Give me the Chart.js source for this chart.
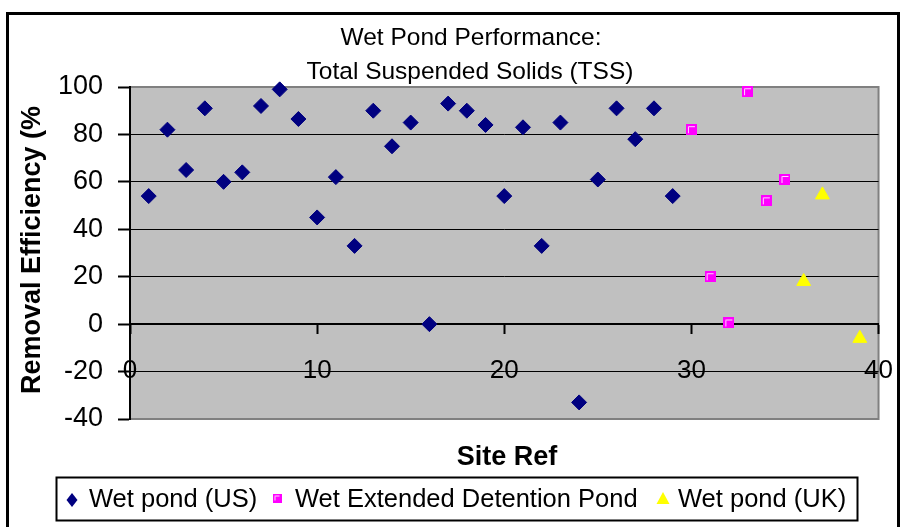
<!DOCTYPE html>
<html>
<head>
<meta charset="utf-8">
<title>Wet Pond Performance: TSS</title>
<script src="https://cdn.jsdelivr.net/npm/chart.js@4.4.1/dist/chart.umd.min.js"></script>
<style>
    html, body { margin: 0; padding: 0; background: #fff; }
    #wrap { width: 915px; height: 527px; }
</style>
</head>
<body>
<div id="wrap"><canvas id="tss-chart" width="915" height="527"></canvas></div>
<script>
// ─── Data ──────────────────────────────────────────────────────

const titleLines = ['Wet Pond Performance:', 'Total Suspended Solids (TSS)'];
const xAxisTitle = 'Site Ref';
const yAxisTitle = 'Removal Efficiency (%';

const seriesNames = ['Wet pond (US)', 'Wet Extended Detention Pond', 'Wet pond (UK)'];

const usSites  = [1, 2, 3, 4, 5, 6, 7, 8, 9, 10, 11, 12, 13, 14, 15, 16, 17, 18, 19, 20,
                  21, 22, 23, 24, 25, 26, 27, 28, 29];
const usValues = [54, 82, 65, 91, 60, 64, 92, 99, 86.5, 45, 62, 33, 90, 75, 85, 0, 93, 90, 84, 54,
                  83, 33, 85, -33, 61, 91, 78, 91, 54];

const edSites  = [30, 31, 32, 33, 34, 35];
const edValues = [82, 20, 0.5, 98, 52, 61];

const ukSites  = [36, 37, 39];
const ukValues = [18, 54.5, -6];

const xTicks = [0, 10, 20, 30, 40];
const yTicks = [-40, -20, 0, 20, 40, 60, 80, 100];

// ─── Look ──────────────────────────────────────────────────────

const FONT = '"Liberation Sans", Arial, sans-serif';
const NAVY = '#000080';
const MAGENTA = '#ff00ff';
const YELLOW = '#ffff00';

// Excel's square marker: magenta with a pale inner corner
function squareMarker(size) {
    const c = document.createElement('canvas');
    c.width = size;
    c.height = size;
    const g = c.getContext('2d');
    g.fillStyle = MAGENTA;
    g.fillRect(0, 0, size, size);
    g.strokeStyle = '#ffd6ff';
    g.lineWidth = 1;
    g.beginPath();
    g.moveTo(2.5, size - 2);
    g.lineTo(2.5, 2.5);
    g.lineTo(size - 2, 2.5);
    g.stroke();
    return c;
}

const plotSquare = squareMarker(11);
const legendSquare = squareMarker(9);

const toPoints = (xs, ys) => xs.map((x, i) => ({ x, y: ys[i] }));

// ─── Extra drawing: plot fill, frame, titles, legend ───────────

const excelLook = {
    id: 'excelLook',
    beforeDraw(chart) {
        const { ctx, chartArea: a } = chart;
        ctx.save();
        ctx.fillStyle = '#fff';
        ctx.fillRect(0, 0, chart.width, chart.height);
        ctx.fillStyle = '#c0c0c0';
        ctx.fillRect(a.left, a.top, a.right - a.left, a.bottom - a.top);

        ctx.strokeStyle = '#808080';
        ctx.lineWidth = 2;
        ctx.beginPath();
        ctx.moveTo(a.left, a.top);
        ctx.lineTo(a.right, a.top);
        ctx.lineTo(a.right, a.bottom);
        ctx.lineTo(a.left, a.bottom);
        ctx.stroke();

        // outer chart frame (bottom edge runs off the picture)
        ctx.strokeStyle = '#000';
        ctx.lineWidth = 3;
        ctx.strokeRect(7.5, 13.5, 891, 530);
        ctx.restore();
    },
    afterDraw(chart) {
        const { ctx } = chart;
        ctx.save();
        ctx.fillStyle = '#000';
        ctx.textAlign = 'center';
        ctx.textBaseline = 'middle';

        ctx.font = '24.5px ' + FONT;
        ctx.fillText(titleLines[0], 471, 38);
        ctx.fillText(titleLines[1], 470, 72);

        ctx.font = 'bold 27px ' + FONT;
        ctx.fillText(xAxisTitle, 507, 458);

        ctx.save();
        ctx.translate(33, 250);
        ctx.rotate(-Math.PI / 2);
        ctx.fillText(yAxisTitle, 0, 0);
        ctx.restore();

        // legend box
        ctx.strokeStyle = '#000';
        ctx.lineWidth = 2;
        ctx.strokeRect(56.5, 477.5, 801, 43);

        const ly = 500;
        const markerX = [72, 277, 663];
        const textX = [89, 295, 678];
        ctx.fillStyle = NAVY;
        ctx.beginPath();
        ctx.moveTo(72, ly - 7);
        ctx.lineTo(77.5, ly);
        ctx.lineTo(72, ly + 7);
        ctx.lineTo(66.5, ly);
        ctx.closePath();
        ctx.fill();

        ctx.drawImage(legendSquare, markerX[1] - 4.5, ly - 6.5);

        ctx.fillStyle = YELLOW;
        ctx.beginPath();
        ctx.moveTo(markerX[2], ly - 8);
        ctx.lineTo(markerX[2] + 6.5, ly + 4);
        ctx.lineTo(markerX[2] - 6.5, ly + 4);
        ctx.closePath();
        ctx.fill();

        ctx.fillStyle = '#000';
        ctx.textAlign = 'left';
        ctx.font = '25.5px ' + FONT;
        seriesNames.forEach((name, i) => ctx.fillText(name, textX[i], ly));
        ctx.restore();
    }
};

// ─── Chart ─────────────────────────────────────────────────────

Chart.defaults.font.family = FONT;
Chart.defaults.color = '#000';

const canvas = document.getElementById('tss-chart');

new Chart(canvas, {
    type: 'scatter',
    data: {
        datasets: [
            {
                label: seriesNames[0],
                data: toPoints(usSites, usValues),
                pointStyle: 'rectRot',
                pointRadius: 7.5,
                backgroundColor: NAVY,
                borderColor: NAVY,
                borderWidth: 1
            },
            {
                label: seriesNames[1],
                data: toPoints(edSites, edValues),
                pointStyle: plotSquare,
                pointRadius: 6
            },
            {
                label: seriesNames[2],
                data: toPoints(ukSites, ukValues),
                pointStyle: 'triangle',
                pointRadius: 8,
                backgroundColor: YELLOW,
                borderColor: YELLOW,
                borderWidth: 1
            }
        ]
    },
    options: {
        responsive: false,
        animation: false,
        events: [],
        clip: false,
        layout: { padding: { left: 0, top: 87, right: 33, bottom: 108 } },
        plugins: {
            legend: { display: false },
            title: { display: false },
            tooltip: { enabled: false }
        },
        scales: {
            x: {
                type: 'linear',
                position: { y: 0 },
                min: xTicks[0],
                max: xTicks[xTicks.length - 1],
                afterBuildTicks(scale) {
                    scale.ticks = xTicks.map(v => ({ value: v }));
                },
                grid: {
                    drawOnChartArea: false,
                    drawTicks: true,
                    tickLength: 9,
                    tickColor: '#000',
                    tickWidth: 2
                },
                border: { color: '#000', width: 2 },
                ticks: {
                    font: { size: 26 },
                    color: '#000',
                    padding: 22,
                    maxRotation: 0
                }
            },
            y: {
                type: 'linear',
                position: 'left',
                min: yTicks[0],
                max: yTicks[yTicks.length - 1],
                afterBuildTicks(scale) {
                    scale.ticks = yTicks.map(v => ({ value: v }));
                },
                afterFit(scale) {
                    scale.width = 130;
                },
                grid: {
                    color: ctx => (ctx.tick && (ctx.tick.value === 100 || ctx.tick.value === -40))
                        ? 'rgba(0,0,0,0)' : '#000',
                    lineWidth: 1,
                    tickLength: 12,
                    tickColor: '#000',
                    tickWidth: 2
                },
                border: { color: '#000', width: 2 },
                ticks: {
                    font: { size: 27 },
                    color: '#000',
                    padding: 15
                }
            }
        }
    },
    plugins: [excelLook]
});
</script>
</body>
</html>
